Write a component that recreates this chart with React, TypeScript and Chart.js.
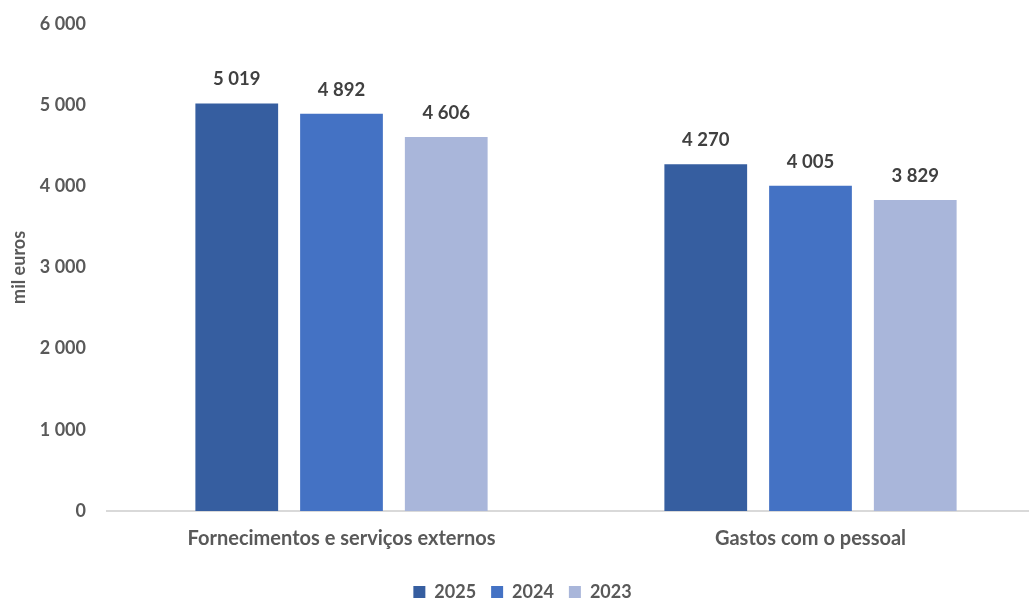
import React, { useEffect, useRef } from "react";
import { Chart, registerables } from "chart.js";

Chart.register(...registerables);

const categories = ["Fornecimentos e serviços externos", "Gastos com o pessoal"];
const seriesLabels = ["2025", "2024", "2023"];
const values2025 = [5019, 4270];
const values2024 = [4892, 4005];
const values2023 = [4606, 3829];
const seriesColors = ["#365EA0", "#4472C4", "#A9B6DA"];
const yTicks = [0, 1000, 2000, 3000, 4000, 5000, 6000];

const fmt = (n: number) => String(n).replace(/\B(?=(\d{3})+(?!\d))/g, " ");
const FONT = "Lato, 'Liberation Sans', sans-serif";

const dataLabelPlugin = {
  id: "dataLabels",
  afterDatasetsDraw(chart: any) {
    const ctx = chart.ctx;
    ctx.save();
    ctx.font = `bold 18.5px ${FONT}`;
    ctx.fillStyle = "#404040";
    ctx.textAlign = "center";
    ctx.textBaseline = "middle";
    chart.data.datasets.forEach((ds: any, i: number) => {
      const meta = chart.getDatasetMeta(i);
      meta.data.forEach((bar: any, j: number) => {
        ctx.fillText(fmt(ds.data[j]), bar.x, bar.y - 24);
      });
    });
    ctx.restore();
  },
};

export default function App() {
  const ref = useRef<HTMLCanvasElement>(null);
  useEffect(() => {
    if (!ref.current) return;
    const chart = new Chart(ref.current, {
      type: "bar",
      data: {
        labels: categories,
        datasets: [values2025, values2024, values2023].map((d, i) => ({
          label: seriesLabels[i],
          data: d,
          backgroundColor: seriesColors[i],
          categoryPercentage: 0.67,
          barPercentage: 0.79,
        })),
      },
      options: {
        responsive: false,
        animation: false,
        layout: { padding: { top: -1, bottom: 0, left: 0, right: 0 } },
        plugins: {
          legend: {
            position: "bottom",
            labels: {
              boxWidth: 12,
              boxHeight: 12,
              padding: 15,
              color: "#595959",
              font: { family: FONT, size: 18, weight: "bold" },
            },
          },
          tooltip: { enabled: false },
        },
        scales: {
          x: {
            afterFit(scale: any) {
              scale.height = 57;
            },
            grid: { display: false },
            border: { display: true, color: "#D9D9D9", width: 2 },
            ticks: {
              color: "#595959",
              padding: 8,
              font: { family: FONT, size: 20, weight: "bold" },
            },
          },
          y: {
            min: 0,
            max: 6000,
            afterBuildTicks(scale: any) {
              scale.ticks = yTicks.map((v) => ({ value: v }));
            },
            afterFit(scale: any) {
              scale.width = 107;
            },
            grid: { display: false },
            border: { display: false },
            title: {
              display: true,
              text: "mil euros",
              color: "#595959",
              padding: { top: 8, bottom: 0 },
              font: { family: FONT, size: 18, weight: "bold" },
            },
            ticks: {
              color: "#595959",
              padding: 13,
              font: { family: FONT, size: 18, weight: "bold" },
              callback: (v: any) => fmt(Number(v)),
            },
          },
        },
      },
      plugins: [dataLabelPlugin],
    });
    return () => chart.destroy();
  }, []);
  return (
    <div style={{ position: "fixed", left: 0, top: 0, width: "100vw", height: "100vh", overflow: "hidden", background: "#fff" }}>
      <canvas ref={ref} width={1045} height={611} style={{ display: "block" }} />
    </div>
  );
}
